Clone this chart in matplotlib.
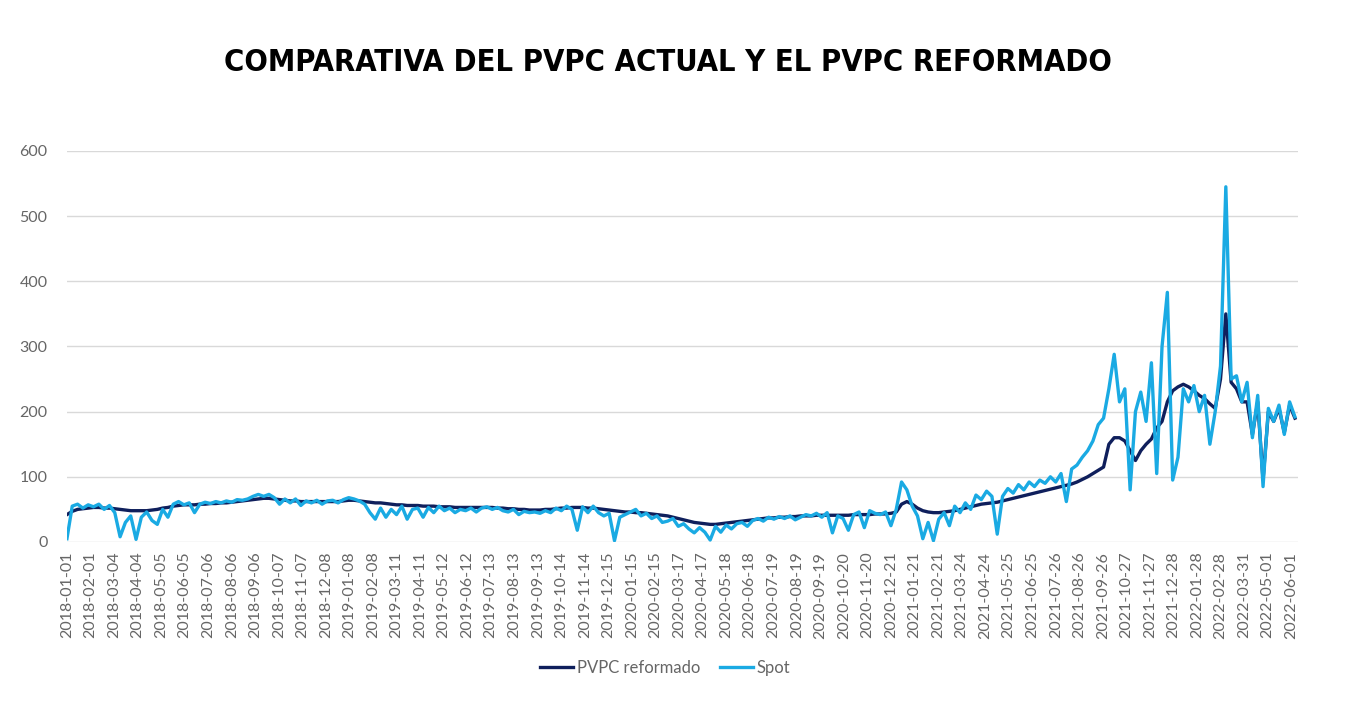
import numpy as np
import pandas as pd
import matplotlib
matplotlib.use('Agg')
import matplotlib.pyplot as plt
from matplotlib import font_manager

# valores semanales (EUR/MWh), desde 2018-01-01
spot_2018 = [5, 55, 58, 52, 57, 54, 58, 50, 56, 45, 8, 30, 40, 4, 38, 46, 33, 27, 50, 38,
             58, 62, 57, 60, 45, 58, 61, 59, 62, 60, 63, 61, 65, 64, 66, 70, 73, 70, 73, 68,
             58, 66, 60, 66, 56, 63, 60, 64, 58, 63, 64, 60, 65]
spot_2019 = [68, 66, 63, 58, 45, 35, 52, 38, 50, 42, 55, 35, 50, 52, 38, 53, 45, 55, 48, 52,
             45, 50, 48, 52, 46, 52, 54, 50, 53, 48, 46, 50, 42, 47, 45, 46, 44, 48, 45, 52,
             48, 55, 50, 18, 54, 45, 55, 45, 40, 44, 2, 38]
spot_2020 = [42, 46, 50, 40, 44, 36, 40, 30, 32, 36, 24, 28, 20, 14, 22, 15, 3, 24, 15, 26,
             20, 28, 30, 24, 33, 36, 32, 38, 35, 39, 36, 40, 34, 38, 42, 40, 44, 38, 45, 14,
             40, 36, 18, 42, 46, 22, 48, 44, 42, 46, 25, 50]
spot_2021 = [92, 80, 55, 40, 5, 30, 2, 35, 45, 25, 55, 45, 60, 50, 72, 65, 78, 70, 12, 70,
             82, 75, 88, 80, 92, 85, 95, 90, 100, 92, 105, 62, 112, 118, 130, 140, 155, 180, 190, 235,
             288, 215, 235, 80, 200, 230, 185, 275, 105, 300, 383, 95]
spot_2022 = [130, 235, 215, 240, 200, 225, 150, 200, 270, 545, 250, 255, 215, 245, 160, 225, 85, 205, 185, 210,
             165, 215, 192]

pvpc_2018 = [42, 47, 50, 51, 52, 53, 53, 52, 52, 51, 50, 49, 48, 48, 48, 48, 49, 50, 52, 53,
             55, 56, 57, 57, 57, 58, 58, 59, 59, 60, 60, 61, 62, 63, 64, 65, 66, 67, 67, 66,
             65, 64, 63, 63, 62, 62, 62, 62, 62, 62, 62, 62, 63]
pvpc_2019 = [64, 64, 63, 62, 61, 60, 60, 59, 58, 57, 57, 56, 56, 56, 55, 55, 55, 54, 54, 54,
             53, 53, 53, 53, 53, 53, 53, 53, 52, 52, 51, 51, 50, 50, 49, 49, 49, 50, 50, 51,
             52, 52, 53, 53, 53, 52, 52, 51, 50, 49, 48, 47]
pvpc_2020 = [46, 46, 45, 45, 44, 43, 42, 41, 40, 38, 36, 34, 32, 30, 29, 28, 27, 27, 28, 29,
             30, 31, 32, 33, 34, 35, 36, 37, 37, 38, 38, 39, 39, 40, 40, 40, 41, 41, 41, 41,
             41, 41, 41, 42, 42, 42, 42, 43, 43, 43, 44, 46]
pvpc_2021 = [58, 62, 58, 52, 48, 46, 45, 45, 46, 47, 48, 50, 52, 54, 56, 58, 59, 60, 61, 63,
             65, 67, 69, 71, 73, 75, 77, 79, 81, 83, 85, 87, 89, 92, 96, 100, 105, 110, 115, 150,
             160, 160, 155, 140, 125, 140, 150, 158, 175, 185, 215, 232]
pvpc_2022 = [238, 242, 238, 232, 225, 220, 212, 205, 250, 350, 245, 235, 215, 215, 165, 215, 95, 200, 185, 205,
             168, 210, 190]

spot = spot_2018 + spot_2019 + spot_2020 + spot_2021 + spot_2022
pvpc = pvpc_2018 + pvpc_2019 + pvpc_2020 + pvpc_2021 + pvpc_2022

start = pd.Timestamp('2018-01-01')
dates = pd.date_range(start, periods=len(spot), freq='7D')
tick_dates = pd.date_range(start, periods=53, freq='31D')

GRAY = '#666666'
plt.rcParams['font.family'] = ['Lato', 'DejaVu Sans']


def title_font():
    # busca una fuente estrecha en negrita (tipo Arial Narrow)
    for f in font_manager.fontManager.ttflist:
        narrow = ('Narrow' in f.name or 'Condensed' in f.name
                  or f.stretch in ('condensed', 'semi-condensed', 600 - 100, 300))
        bold = f.weight in ('bold', 700, 'heavy') or (isinstance(f.weight, int) and f.weight >= 700)
        if narrow and bold:
            return font_manager.FontProperties(fname=f.fname)
    return font_manager.FontProperties(family='Liberation Sans', weight='bold')


fig = plt.figure(figsize=(13.66, 7.21), dpi=100)
ax = fig.add_axes([0.049, 0.2483, 0.9012, 0.5423])

ax.plot(dates, pvpc, color='#0F1F5C', lw=2.4, label='PVPC reformado', solid_joinstyle='round')
ax.plot(dates, spot, color='#1AAAE3', lw=2.4, label='Spot', solid_joinstyle='round')

ax.set_ylim(0, 600)
ax.set_yticks(range(0, 601, 100))
ax.set_xlim(start, start + pd.Timedelta(days=1621))
ax.set_xticks(tick_dates)
ax.set_xticklabels([d.strftime('%Y-%m-%d') for d in tick_dates], rotation=90)

ax.yaxis.grid(True, color='#d9d9d9', lw=1)
ax.set_axisbelow(True)
for s in ax.spines.values():
    s.set_visible(False)
ax.tick_params(axis='both', length=0, colors=GRAY, labelsize=11.5)
ax.tick_params(axis='y', pad=14)
ax.tick_params(axis='x', pad=7)

fp = title_font()
title = fig.text(0.489, 0.914, 'COMPARATIVA DEL PVPC ACTUAL Y EL PVPC REFORMADO',
                 ha='center', va='center', color='black', fontproperties=fp)
title.set_fontsize(25)
fig.canvas.draw()
w = title.get_window_extent().width
size = min(25 * 888 / w, 26)
title.set_fontsize(size)

fig.legend(loc='center', bbox_to_anchor=(0.487, 0.0735), ncol=2, frameon=False,
           fontsize=12, labelcolor=GRAY, handlelength=2.0, handletextpad=0.2,
           columnspacing=1.2)

fig.savefig('out.png', dpi=100)
